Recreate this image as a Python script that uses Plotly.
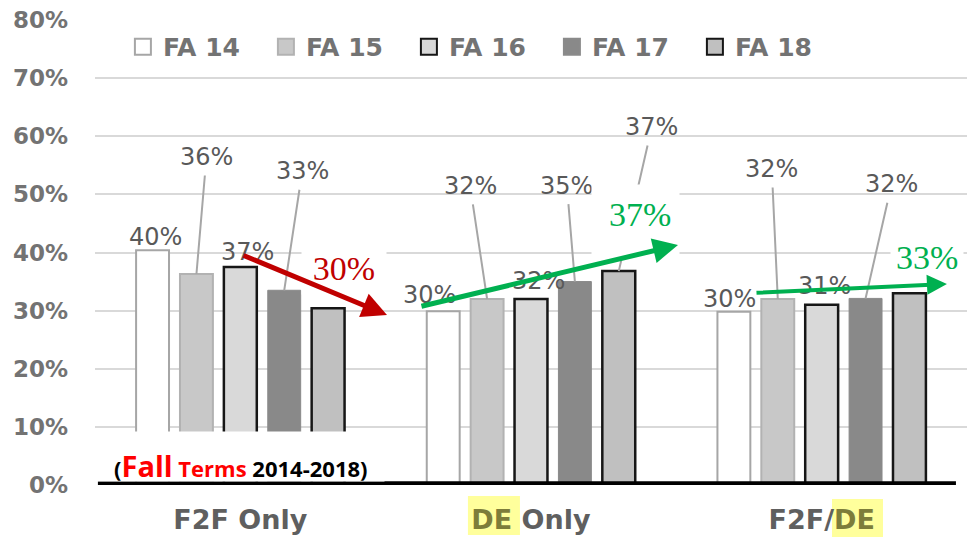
import plotly.graph_objects as go

# ---------------- data ----------------
categories = ["F2F Only", "DE Only", "F2F/DE"]
category_ticktext = [
    "F2F Only",
    "<span style='color:#7d7d3a'>DE</span> Only",
    "F2F/<span style='color:#7d7d3a'>DE</span>",
]
series_names = ["FA 14", "FA 15", "FA 16", "FA 17", "FA 18"]
fa14 = [0.404, 0.299, 0.298]
fa15 = [0.363, 0.320, 0.320]
fa16 = [0.375, 0.320, 0.310]
fa17 = [0.335, 0.350, 0.321]
fa18 = [0.304, 0.368, 0.330]
labels14 = ["40%", "30%", "30%"]
labels15 = ["36%", "32%", "32%"]
labels16 = ["37%", "32%", "31%"]
labels17 = ["33%", "35%", "32%"]
labels18 = [None, "37%", None]
trend_labels = ["30%", "37%", "33%"]
y_ticks = [0, 0.1, 0.2, 0.3, 0.4, 0.5, 0.6, 0.7, 0.8]
note_text = ("(<span style='color:#ff0000;font-size:29px'>Fall</span> "
             "<span style='color:#ff0000;font-size:22px'>Terms</span> 2014-2018)")

series_values = [fa14, fa15, fa16, fa17, fa18]
series_labels = [labels14, labels15, labels16, labels17, labels18]

# ---------------- styles ----------------
fills = ["#ffffff", "#c8c8c8", "#d9d9d9", "#898989", "#c0c0c0"]
borders = ["#a6a6a6", "#b2b2b2", "#161616", "#8a8a8a", "#161616"]
border_w = [2, 2, 2.5, 1, 2.5]

BARGAP = 0.245
GROUPGAP = 0.25
SLOT = (1 - BARGAP) / 5

# label placement: (dx, dy) pixel offset of label centre from bar top, leader flag
label_pos = {
    (0, 0): (3, -13, False), (0, 1): (-14, -16, False), (0, 2): (-4, -13, False),
    (1, 0): (10, -117, True), (1, 1): (-17, -113, True), (1, 2): (-6, -130, True),
    (2, 0): (7, -15, False), (2, 1): (7, -18, False), (2, 2): (3, -19, False),
    (3, 0): (18, -119, True), (3, 1): (-8, -96, True), (3, 2): (26, -114, True),
    (4, 1): (33, -144, True),
}

LABEL_FONT = dict(family="DejaVu Sans", size=24, color="#595959")
GREY_TXT = "#737373"

fig = go.Figure()

for j, name in enumerate(series_names):
    fig.add_trace(go.Bar(
        x=categories, y=series_values[j], name=name,
        marker=dict(color=fills[j], line=dict(color=borders[j], width=border_w[j])),
        showlegend=False, legendgroup=name, hoverinfo="skip",
    ))
    # legend proxy with larger square symbol
    fig.add_trace(go.Scatter(
        x=[None], y=[None], mode="markers", name=name, legendgroup=name,
        marker=dict(symbol="square", size=16, color=fills[j],
                    line=dict(color=borders[j], width=2)),
        hoverinfo="skip",
    ))

annotations = []
# data labels
for j in range(5):
    for i in range(3):
        txt = series_labels[j][i]
        if txt is None:
            continue
        dx, dy, leader = label_pos[(j, i)]
        xpos = i + (j - 2) * SLOT
        ypos = series_values[j][i]
        if leader:
            annotations.append(dict(
                x=xpos, y=ypos, xref="x", yref="y", text=txt, font=LABEL_FONT,
                showarrow=True, ax=dx, ay=dy, arrowhead=0, arrowwidth=2,
                arrowcolor="#a6a6a6", startstandoff=3,
            ))
        else:
            annotations.append(dict(
                x=xpos, y=ypos, xref="x", yref="y", text=txt, font=LABEL_FONT,
                showarrow=False, xshift=dx, yshift=-dy, yanchor="middle",
            ))

# white cover boxes
annotations.append(dict(x=1.3595, y=0.4544, xref="x", yref="y", text=" ",
                        showarrow=False, width=85, height=70, bgcolor="#ffffff"))
annotations.append(dict(x=0.0, y=0.049, xref="x", yref="y", text=" ",
                        showarrow=False, width=285, height=47, bgcolor="#ffffff"))

# note
annotations.append(dict(x=0.0023, y=0.0344, xref="x", yref="y", text=note_text,
                        showarrow=False,
                        font=dict(family="Open Sans", size=22, color="#000000", weight="bold")))

# trend labels
serif = "Liberation Serif"
annotations.append(dict(x=0.3566, y=0.3735, xref="x", yref="y", text=trend_labels[0],
                        showarrow=False, width=82, height=50, bgcolor="#ffffff",
                        font=dict(family=serif, size=34, color="#c00000")))
annotations.append(dict(x=1.375, y=0.4647, xref="x", yref="y", text=trend_labels[1],
                        showarrow=False,
                        font=dict(family=serif, size=34, color="#00b050")))
annotations.append(dict(x=2.362, y=0.3907, xref="x", yref="y", text=trend_labels[2],
                        showarrow=False, bgcolor="#ffffff", borderpad=5,
                        font=dict(family=serif, size=34, color="#00b050")))

# trend arrows
arrows = [
    ((0.006, 0.396), (0.5046, 0.2926), "#c00000", 5),
    ((0.618, 0.307), (1.5057, 0.413), "#00b050", 5),
    ((1.7706, 0.3305), (2.431, 0.346), "#00b050", 4),
]
for (tx, ty), (hx, hy), col, w in arrows:
    annotations.append(dict(
        x=hx, y=hy, ax=tx, ay=ty, xref="x", yref="y", axref="x", ayref="y",
        text="", showarrow=True, arrowhead=2, arrowsize=1, arrowwidth=w,
        arrowcolor=col,
    ))

shapes = [
    # baseline
    dict(type="line", xref="x", yref="y", x0=-0.49, x1=2.462, y0=0.003, y1=0.003,
         line=dict(color="#000000", width=4), layer="above"),
    # yellow highlights behind "DE"
    dict(type="rect", xref="x", yref="paper", x0=0.783, x1=0.962, y0=-0.1075, y1=-0.0237,
         fillcolor="#ffff9c", line=dict(width=0), layer="below"),
    dict(type="rect", xref="x", yref="paper", x0=2.0356, x1=2.211, y0=-0.1118, y1=-0.0301,
         fillcolor="#ffff9c", line=dict(width=0), layer="below"),
]

fig.update_layout(
    width=968, height=541,
    margin=dict(l=95, r=1, t=20, b=56),
    paper_bgcolor="#ffffff", plot_bgcolor="#ffffff",
    barmode="group", bargap=BARGAP, bargroupgap=GROUPGAP,
    annotations=annotations, shapes=shapes,
    legend=dict(
        orientation="h", x=0.032, xanchor="left", y=0.942, yanchor="middle",
        font=dict(family="DejaVu Sans", size=25, color=GREY_TXT, weight="bold"),
        bgcolor="rgba(0,0,0,0)", entrywidth=98, itemclick=False, itemdoubleclick=False,
    ),
    xaxis=dict(
        type="category", range=[-0.5, 2.5], tickvals=categories, ticktext=category_ticktext,
        showgrid=False, showline=False, zeroline=False, ticks="",
        tickfont=dict(family="DejaVu Sans", size=27, color="#5f5f5f", weight="bold"),
        ticklabelstandoff=16,
    ),
    yaxis=dict(
        range=[0, 0.8], tickvals=y_ticks, tickformat=".0%",
        showgrid=True, gridcolor="#d9d9d9", gridwidth=2,
        zeroline=False, showline=False, ticks="",
        tickfont=dict(family="DejaVu Sans", size=23, color=GREY_TXT, weight="bold"),
        ticklabelstandoff=26,
    ),
    hovermode=False,
)

fig.write_html(
    "out.html",
    config={"displayModeBar": False},
    post_script="document.body.style.margin='0px';document.body.style.overflow='hidden';",
)
